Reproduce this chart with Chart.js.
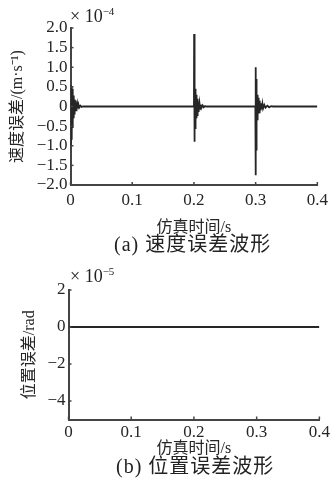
<!DOCTYPE html>
<html>
<head>
<meta charset="utf-8">
<script src="https://cdn.jsdelivr.net/npm/chart.js@4.4.1/dist/chart.umd.min.js"></script>
<style>
  body { margin: 0; background: #fff; width: 333px; height: 495px; position: relative; overflow: hidden; }
  canvas { position: absolute; left: 0; }
  .txt { position: absolute; font-family: "Liberation Serif", "Noto Sans CJK SC", serif; color: #222; white-space: nowrap; }
  .mult { font-size: 18px; line-height: 20px; }
  .mult sup { font-size: 11px; vertical-align: 7px; line-height: 0; }
  .cap { font-size: 20px; line-height: 22px; letter-spacing: 1px; }
</style>
</head>
<body>
<canvas id="speedChart" width="333" height="237" style="top:0"></canvas>
<canvas id="posChart" width="333" height="208" style="top:250px"></canvas>
<div class="txt mult" style="left:70px; top:6px">× 10<sup>−4</sup></div>
<div class="txt mult" style="left:70px; top:266px">× 10<sup>−5</sup></div>
<div class="txt cap" style="left:114px; top:233px">(a) 速度误差波形</div>
<div class="txt cap" style="left:116px; top:455px">(b) 位置误差波形</div>
<script>
// 速度误差 (×1e-4 m/s), trois salves autour de 0, 0.2 et 0.3 s
const burst0T = [0, 0.0004, 0.0008, 0.0012, 0.0016, 0.002, 0.0024, 0.0028, 0.0032, 0.0036, 0.004, 0.0045, 0.005, 0.0055, 0.006, 0.0065, 0.007, 0.0075, 0.008, 0.0085, 0.009, 0.0095, 0.01, 0.011, 0.012, 0.013, 0.014, 0.016, 0.018, 0.02];
const burst0V = [0, 0.55, -0.98, 0.52, -0.85, 0.5, -0.7, 0.45, -0.55, 0.35, -0.4, 0.28, -0.3, 0.22, -0.18, 0.18, -0.12, 0.15, -0.12, 0.12, -0.1, 0.1, -0.08, 0.06, -0.05, 0.04, -0.03, 0.02, -0.01, 0];
const burst2T = [0.2, 0.2003, 0.2006, 0.2009, 0.2012, 0.2015, 0.2018, 0.2021, 0.2024, 0.2028, 0.2032, 0.2036, 0.204, 0.2045, 0.205, 0.2055, 0.206, 0.2065, 0.207, 0.2075, 0.208, 0.209, 0.21, 0.211, 0.212, 0.214, 0.216, 0.218, 0.22];
const burst2V = [0, 1.85, -0.9, 1.2, -0.85, 0.5, -0.55, 0.45, -0.45, 0.4, -0.35, 0.3, -0.3, 0.25, -0.22, 0.2, -0.18, 0.15, -0.12, 0.12, -0.1, 0.08, -0.06, 0.05, -0.04, 0.03, -0.02, 0.01, 0];
const burst3T = [0.2995, 0.2998, 0.3001, 0.3004, 0.3007, 0.301, 0.3013, 0.3016, 0.302, 0.3024, 0.3028, 0.3032, 0.3036, 0.304, 0.3045, 0.305, 0.3055, 0.306, 0.3065, 0.307, 0.308, 0.309, 0.31, 0.311, 0.312, 0.314, 0.316, 0.319, 0.322, 0.325, 0.328, 0.4];
const burst3V = [0, 1.0, -1.75, 0.75, -1.1, 0.7, -0.45, 0.4, -0.4, 0.3, -0.35, 0.28, -0.25, 0.22, -0.18, 0.2, -0.15, 0.15, -0.12, 0.12, -0.1, 0.08, -0.07, 0.06, -0.05, 0.04, -0.03, 0.02, -0.02, 0.01, 0, 0];

// 位置误差 (×1e-5 rad) : reste à zéro
const posT = [0, 0.1, 0.2, 0.3, 0.4];
const posV = [0, 0, 0, 0, 0];

const xTicks = [0, 0.1, 0.2, 0.3, 0.4];
const speedTicks = [2, 1.5, 1, 0.5, 0, -0.5, -1, -1.5, -2];
const posTicks = [2, 0, -2, -4];

const toPts = (t, v) => t.map((x, i) => ({x: x, y: v[i]}));
const speedPts = [].concat(toPts(burst0T, burst0V), toPts(burst2T, burst2V), toPts(burst3T, burst3V));

const serif = '"Liberation Serif", "Noto Sans CJK SC", serif';
const ink = '#262626';

function fmt(v, dec) {
    if (v === 0) return '0';
    return (v < 0 ? '−' : '') + Math.abs(v).toFixed(dec);
}

// petits traits de graduation vers l'intérieur
const innerTicks = {
    id: 'innerTicks',
    afterDraw(chart) {
        const {ctx, chartArea: a, scales: {x, y}} = chart;
        ctx.save();
        ctx.strokeStyle = '#444';
        ctx.lineWidth = 1.5;
        x.ticks.forEach(t => {
            const px = x.getPixelForValue(t.value);
            ctx.beginPath(); ctx.moveTo(px, a.bottom); ctx.lineTo(px, a.bottom - 3); ctx.stroke();
        });
        y.ticks.forEach(t => {
            const py = y.getPixelForValue(t.value);
            ctx.beginPath(); ctx.moveTo(a.left, py); ctx.lineTo(a.left + 3, py); ctx.stroke();
        });
        ctx.restore();
    }
};

function makeChart(id, pts, yMin, yMax, yTickVals, dec, yTitle, pad, yWidth, xHeight, xPad) {
    return new Chart(document.getElementById(id), {
        type: 'line',
        data: {
            datasets: [{
                data: pts,
                borderColor: ink,
                borderWidth: 1.8,
                pointRadius: 0,
                tension: 0,
                fill: false
            }]
        },
        options: {
            responsive: false,
            animation: false,
            layout: { padding: pad },
            plugins: { legend: { display: false }, tooltip: { enabled: false } },
            scales: {
                x: {
                    type: 'linear',
                    min: 0, max: 0.4,
                    afterBuildTicks: s => { s.ticks = xTicks.map(v => ({value: v})); },
                    afterFit: s => { s.height = xHeight; },
                    grid: { display: false, drawTicks: false },
                    border: { display: true, color: '#444', width: 2 },
                    ticks: { autoSkip: false, maxRotation: 0, padding: xPad, color: ink, font: { family: serif, size: 17 }, callback: v => fmt(v, 1) },
                    title: { display: true, text: '仿真时间/s', color: ink, padding: 0, font: { family: serif, size: 16, lineHeight: 1.2 } }
                },
                y: {
                    min: yMin, max: yMax,
                    afterBuildTicks: s => { s.ticks = yTickVals.map(v => ({value: v})); },
                    afterFit: s => { s.width = yWidth; },
                    grid: { display: false, drawTicks: false },
                    border: { display: true, color: '#444', width: 2 },
                    ticks: { autoSkip: false, padding: 3, color: ink, font: { family: serif, size: 17 }, callback: v => fmt(v, dec) },
                    title: { display: true, text: yTitle, color: ink, padding: 0, font: { family: serif, size: 16, lineHeight: 1.2 } }
                }
            }
        },
        plugins: [innerTicks]
    });
}

makeChart('speedChart', speedPts, -2, 2, speedTicks, 1, '速度误差/(m·s⁻¹)',
    {left: 8, top: 28, right: 11, bottom: 0}, 62.5, 52, 5);
makeChart('posChart', toPts(posT, posV), -5, 2, posTicks, 0, '位置误差/rad',
    {left: 20, top: 40, right: 11, bottom: 0}, 48.5, 38.5, 3);
</script>
</body>
</html>
